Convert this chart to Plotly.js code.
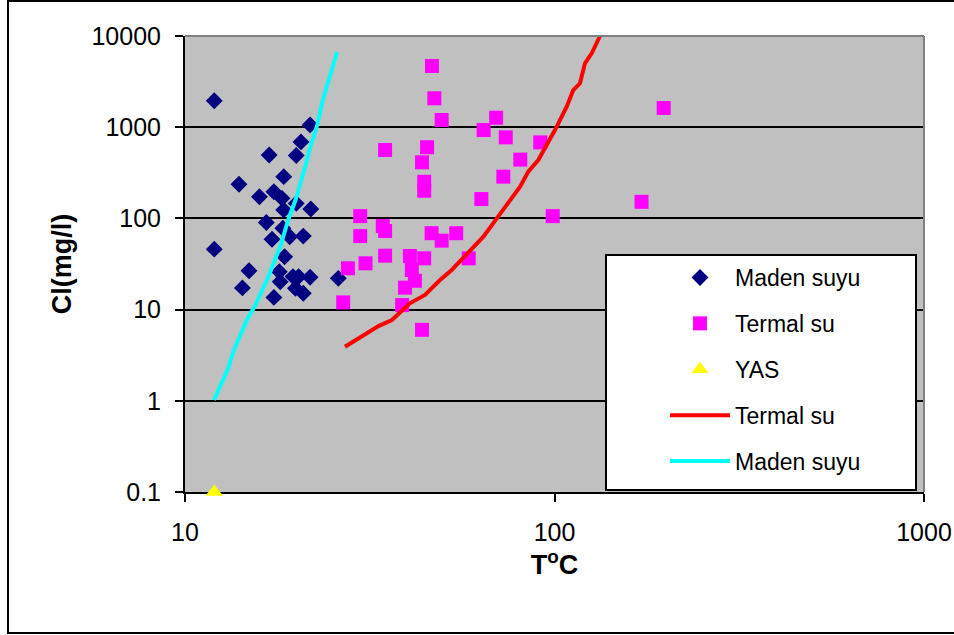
<!DOCTYPE html>
<html>
<head>
<meta charset="utf-8">
<script src="https://cdn.plot.ly/plotly-3.0.1.min.js"></script>
<style>html,body{margin:0;padding:0;background:#fff}#chart{width:954px;height:635px}</style>
</head>
<body>
<div id="chart"></div>
<script>
// Maden suyu (mineral water) points
const madenT  = [12.0, 21.8, 20.6, 20.0, 16.9, 14.0, 18.5, 15.9, 17.4, 18.3, 20.0, 21.9, 18.5, 16.6, 18.4, 17.2, 19.2, 20.9, 12.0, 18.6, 14.9, 14.3, 17.4, 18.0, 18.1, 19.6, 20.3, 21.8, 19.9, 20.9, 26.0];
const madenCl = [1950, 1060, 690, 490, 495, 237, 287, 173, 196, 166, 146, 127, 124, 90, 78, 59, 63, 64, 46, 38, 26.7, 17.3, 13.6, 26, 20.2, 23, 23, 22.6, 17.1, 15.1, 22];
// Termal su (thermal water) points
const termalT  = [46.6, 47.3, 49.5, 69.5, 64.3, 73.8, 91.5, 34.8, 45.2, 43.8, 80.8, 44.4, 44.4, 72.7, 63.4, 29.8, 98.9, 197.5, 172, 29.8, 34.3, 34.8, 46.5, 49.5, 54.2, 34.8, 40.6, 44.4, 58.6, 30.8, 27.6, 41.1, 41.9, 39.4, 26.8, 38.7, 43.8];
const termalCl = [4690, 2075, 1200, 1270, 931, 774, 682, 562, 603, 412, 441, 252, 201, 287, 163, 106, 106, 1624, 152, 64, 82.6, 72.8, 68.8, 57, 68.8, 39, 38.7, 36.5, 36.5, 32.2, 28.4, 27.2, 20.7, 17.4, 12.0, 11.2, 6.0];
// YAS
const yasT  = [12.0];
const yasCl = [0.1];
// Termal su curve
const termalLineT  = [27.1, 33.4, 36.3, 40.6, 44.6, 49.0, 52.7, 56.6, 60.3, 64.2, 69.8, 75.8, 80.7, 84.9, 90.4, 95.2, 100.3, 107.9, 112.4, 117.2, 120.9, 126.1, 132.8];
const termalLineCl = [3.92, 6.6, 7.7, 11.7, 14.5, 21.1, 27.2, 36.5, 49, 63, 100, 159, 223, 325, 437, 638, 931, 1678, 2558, 3030, 5020, 6460, 10000];
// Maden suyu curve
const madenLineT  = [11.98, 12.4, 13.1, 13.5, 14.1, 14.7, 15.5, 16.2, 16.8, 17.5, 18.1, 18.6, 19.1, 19.9, 20.5, 21.1, 21.9, 22.8, 23.6, 24.7, 25.8];
const madenLineCl = [1.02, 1.38, 2.29, 3.43, 5.27, 7.7, 11.2, 16.4, 22.8, 35, 48.6, 71, 101, 158, 232, 357, 638, 1057, 1986, 3736, 6675];
// Axis ticks
const xTickVals = [10, 100, 1000];
const xTickText = ['10', '100', '1000'];
const yTickVals = [0.1, 1, 10, 100, 1000, 10000];
const yTickText = ['0.1', '1', '10', '100', '1000', '10000'];

const FONT = 'Liberation Sans, Arial, sans-serif';
// plot area in pixels
const L = 185, R = 924, T = 36, B = 492;
const px = x => (x - L) / (R - L);
const py = y => 1 - (y - T) / (B - T);

const traces = [
  {x: madenT, y: madenCl, type: 'scatter', mode: 'markers', name: 'Maden suyu', legendgroup: 'a',
   marker: {symbol: 'diamond', size: 13, color: '#000080'}},
  {x: termalT, y: termalCl, type: 'scatter', mode: 'markers', name: 'Termal su', legendgroup: 'b',
   marker: {symbol: 'square', size: 14, color: '#FF00FF'}},
  {x: yasT, y: yasCl, type: 'scatter', mode: 'markers', name: 'YAS', legendgroup: 'c', cliponaxis: false,
   marker: {symbol: 'triangle-up', size: 15, color: '#FFFF00'}},
  {x: termalLineT, y: termalLineCl, type: 'scatter', mode: 'lines', name: 'Termal su', legendgroup: 'd',
   line: {color: '#FF0000', width: 4}},
  {x: madenLineT, y: madenLineCl, type: 'scatter', mode: 'lines', name: 'Maden suyu', legendgroup: 'e',
   line: {color: '#00FFFF', width: 4}}
];

const layout = {
  width: 954, height: 635,
  margin: {l: L, r: 954 - R, t: T, b: 635 - B, pad: 0},
  paper_bgcolor: '#FFFFFF',
  plot_bgcolor: '#C0C0C0',
  font: {family: FONT, color: '#000', size: 25},
  showlegend: true,
  legend: {
    x: px(665), y: py(256), xanchor: 'left', yanchor: 'top',
    bgcolor: 'rgba(0,0,0,0)', borderwidth: 0,
    font: {family: FONT, size: 23, color: '#000'},
    itemwidth: 60, traceorder: 'grouped', tracegroupgap: 13
  },
  xaxis: {
    type: 'log', range: [1, 3], tickmode: 'array', tickvals: xTickVals, ticktext: xTickText,
    showgrid: false, zeroline: false, showline: true, linecolor: '#000', linewidth: 2,
    layer: 'below traces',
    ticks: 'outside', ticklen: 8, tickwidth: 2, tickcolor: '#000', ticklabelstandoff: 9,
    tickfont: {family: FONT, size: 25, color: '#000'}, automargin: false,
    title: {text: 'T<sup>o</sup>C', font: {family: FONT, size: 27, weight: 'bold', color: '#000'}, standoff: 3}
  },
  yaxis: {
    type: 'log', range: [-1, 4], tickmode: 'array', tickvals: yTickVals, ticktext: yTickText,
    showgrid: true, gridcolor: '#000', gridwidth: 2, zeroline: false,
    showline: true, linecolor: '#000', linewidth: 2,
    ticks: 'outside', ticklen: 8, tickwidth: 2, tickcolor: '#000', ticklabelstandoff: 9,
    tickfont: {family: FONT, size: 25, color: '#000'}, automargin: false,
    title: {text: 'Cl(mg/l)', font: {family: FONT, size: 27, weight: 'bold', color: '#000'}, standoff: 12}
  },
  shapes: [
    // plot area top/right border
    {type: 'line', xref: 'paper', yref: 'paper', x0: 0, x1: 1, y0: 1, y1: 1, line: {color: '#808080', width: 2}},
    {type: 'line', xref: 'paper', yref: 'paper', x0: 1, x1: 1, y0: 0, y1: 1, line: {color: '#808080', width: 2}},
    // legend box
    {type: 'rect', xref: 'paper', yref: 'paper', layer: 'above',
     x0: px(606), x1: px(916), y0: py(490), y1: py(255),
     fillcolor: '#FFFFFF', line: {color: '#000', width: 2}},
    // outer chart frame
    {type: 'rect', xref: 'paper', yref: 'paper', layer: 'above',
     x0: px(8), x1: px(962), y0: py(633), y1: py(1),
     fillcolor: 'rgba(0,0,0,0)', line: {color: '#000', width: 2}}
  ]
};

Plotly.newPlot('chart', traces, layout, {displayModeBar: false, staticPlot: true});
</script>
</body>
</html>
